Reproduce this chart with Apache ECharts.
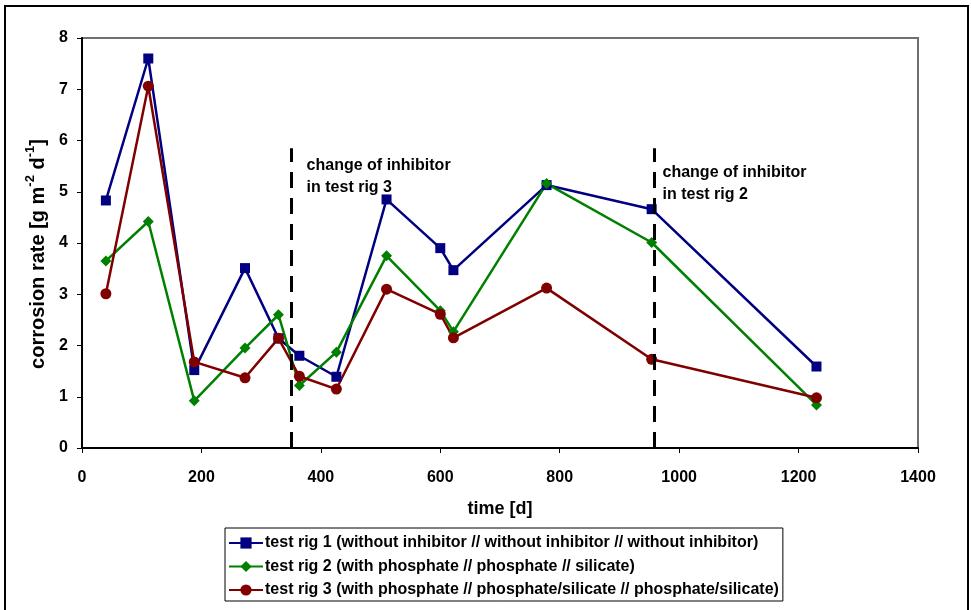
<!DOCTYPE html>
<html><head><meta charset="utf-8">
<script src="https://cdn.jsdelivr.net/npm/echarts@6/dist/echarts.min.js"></script>
<style>html,body{margin:0;padding:0;background:#fff}#c{width:971px;height:610px}</style>
</head><body><div id="c"></div>
<script>
const days = [40, 111, 188, 273, 329, 364, 426, 510, 600, 622, 778, 954, 1230];
const rig1 = [4.83, 7.60, 1.52, 3.51, 2.14, 1.80, 1.39, 4.85, 3.90, 3.47, 5.13, 4.66, 1.59];
const rig2 = [3.65, 4.42, 0.92, 1.95, 2.60, 1.22, 1.87, 3.75, 2.68, 2.27, 5.16, 4.01, 0.84];
const rig3 = [3.01, 7.06, 1.68, 1.37, 2.14, 1.40, 1.15, 3.10, 2.61, 2.15, 3.12, 1.73, 0.98];
const names = [
  'test rig 1 (without inhibitor // without inhibitor // without inhibitor)',
  'test rig 2 (with phosphate // phosphate // silicate)',
  'test rig 3 (with phosphate // phosphate/silicate // phosphate/silicate)'
];
const changeDays = [350, 958];
const changeTop = 5.85;
const changeLabels = ['change of inhibitor\nin test rig 3', 'change of inhibitor\nin test rig 2'];
const labelAnchors = [[377, 5.72], [973, 5.58]];
const xTicks = [0, 1400, 200];
const yTicks = [0, 8, 1];

const font = 'Arial, "Liberation Sans", sans-serif';
function pairs(v){ return days.map((d,i)=>[d, v[i]]); }
function ser(name, data, color, symbol, size){
  return {
    name, type:'line', data: pairs(data), symbol, symbolSize:size,
    itemStyle:{color}, lineStyle:{color, width:2.5}, z:3, animation:false
  };
}
const chart = echarts.init(document.getElementById('c'), null, {renderer:'canvas'});
const s3 = ser(names[2], rig3, '#800000', 'circle', 11);
s3.markLine = {
  silent:true, symbol:'none', animation:false,
  lineStyle:{color:'#000', width:3, type:[16,10]},
  label:{show:false},
  data: changeDays.map(d=>[{coord:[d,0]},{coord:[d,changeTop]}])
};
s3.markPoint = {
  silent:true, animation:false, symbol:'circle', symbolSize:1,
  itemStyle:{color:'rgba(0,0,0,0)'},
  label:{show:true, position:[0,0], align:'left', verticalAlign:'top',
    color:'#000', fontFamily:font, fontWeight:'bold', fontSize:16, lineHeight:22,
    formatter: p => p.data.txt},
  data: labelAnchors.map((a,i)=>({coord:a, txt:changeLabels[i]}))
};
chart.setOption({
  backgroundColor:'#fff',
  animation:false,
  textStyle:{fontFamily:font},
  grid:{left:82, right:53, top:38, bottom:162, show:true, borderColor:'#707070', borderWidth:2, backgroundColor:'#fff'},
  xAxis:{
    type:'value', min:xTicks[0], max:xTicks[1], interval:xTicks[2],
    name:'time [d]', nameLocation:'middle', nameGap:52,
    nameTextStyle:{fontFamily:font, fontWeight:'bold', fontSize:18, color:'#000'},
    axisLine:{show:true, lineStyle:{color:'#000', width:2}},
    axisTick:{show:true, inside:false, length:5, lineStyle:{color:'#000'}},
    axisLabel:{fontFamily:font, fontWeight:'bold', fontSize:16, color:'#000', margin:22, formatter: v => String(v)},
    splitLine:{show:false}
  },
  yAxis:{
    type:'value', min:yTicks[0], max:yTicks[1], interval:yTicks[2],
    name:'{b|corrosion rate [g m}{s|-2}{b| d}{s|-1}{b|]}', nameLocation:'middle', nameGap:32, nameRotate:90,
    nameTextStyle:{fontFamily:font, fontWeight:'bold', fontSize:20, color:'#000', padding:[0,22,0,0],
      rich:{
        b:{fontFamily:font, fontWeight:'bold', fontSize:20, color:'#000', lineHeight:24, verticalAlign:'bottom'},
        s:{fontFamily:font, fontWeight:'bold', fontSize:13, color:'#000', lineHeight:13, verticalAlign:'top'}
      }},
    axisLine:{show:true, lineStyle:{color:'#000', width:2}},
    axisTick:{show:true, inside:false, length:5, lineStyle:{color:'#000'}},
    axisLabel:{fontFamily:font, fontWeight:'bold', fontSize:16, color:'#000', margin:14},
    splitLine:{show:false}
  },
  legend:{
    orient:'vertical', left:225, top:528, itemWidth:34, itemHeight:14, itemGap:7.5,
    padding:[7,4,3,3], borderColor:'#000', borderWidth:1, backgroundColor:'#fff',
    textStyle:{fontFamily:font, fontWeight:'bold', fontSize:16, lineHeight:14, color:'#000', padding:[0,0,0,-3]},
    data: names
  },
  graphic:[{type:'rect', shape:{x:5, y:6, width:963, height:620}, style:{fill:'none', stroke:'#000', lineWidth:2}, silent:true, z:-1}],
  series:[
    ser(names[0], rig1, '#000080', 'rect', 10),
    ser(names[1], rig2, '#008000', 'diamond', 11),
    s3
  ]
});
</script></body></html>
